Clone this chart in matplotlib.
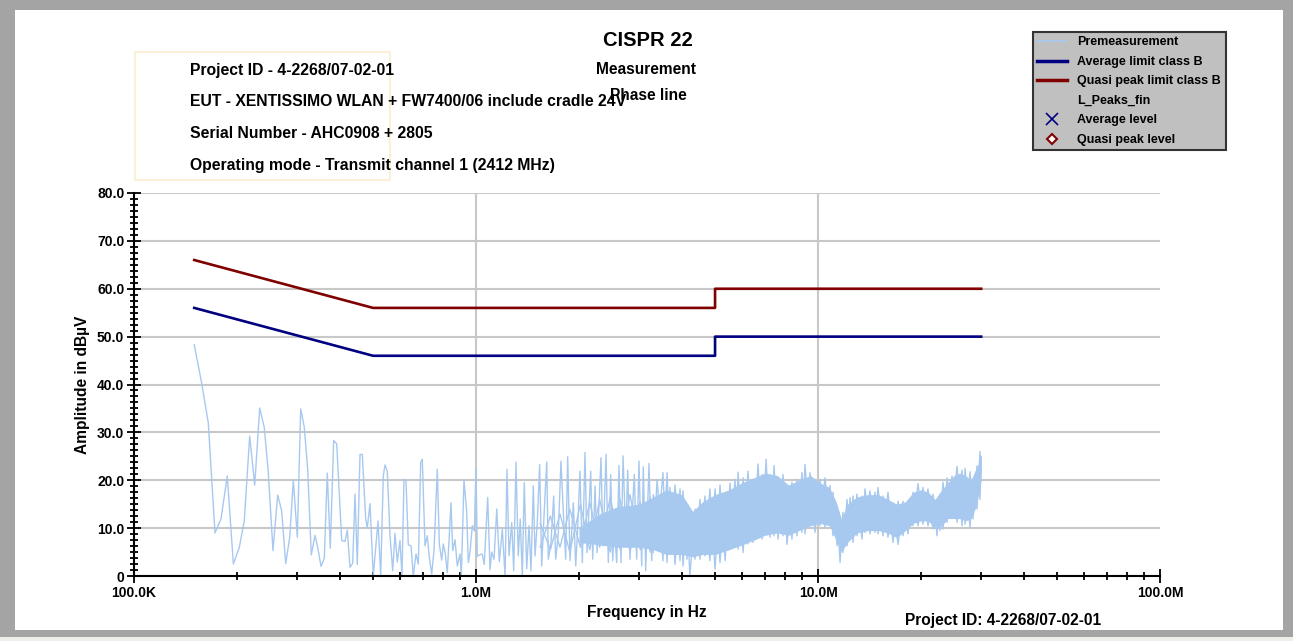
import numpy as np
import matplotlib
matplotlib.use('Agg')
import matplotlib.pyplot as plt
from matplotlib.lines import Line2D
from matplotlib.patches import Rectangle
from matplotlib.ticker import AutoMinorLocator, LogLocator, NullFormatter

# premeasurement, low frequency part (single distinct peaks), kHz / dBuV
lf_khz = [150.0, 157.7, 164.9, 172.5, 179.6, 187.4, 195.2, 203.2, 210.1, 217.9,
          225.4, 233.1, 240.4, 247.0, 254.9, 263.1, 270.3, 277.7, 285.3, 292.3,
          300.3, 307.2, 314.7, 322.0, 329.9, 338.2, 344.5, 352.2, 360.1, 367.4,
          374.9, 383.6, 391.5, 404.9, 414.0, 420.4, 428.1, 436.0, 442.8, 449.7,
          457.9, 465.1, 475.9, 481.0, 489.8, 500.8, 517.0, 526.4, 535.7, 541.9,
          550.3, 560.5, 570.7, 579.6, 588.7, 599.5, 607.6, 615.8, 624.2, 634.0,
          645.6, 655.6, 667.7, 678.1, 689.1, 696.6, 709.4, 720.4, 730.2, 742.1,
          753.7, 770.6, 781.1, 793.8, 802.4, 813.3, 824.3, 845.1, 854.8, 868.1,
          881.7, 897.9, 905.7, 922.3, 939.3, 949.4, 960.4, 975.4, 988.6, 1000.0,
          1008.8, 1022, 1043, 1057, 1082, 1099, 1111, 1129, 1150, 1170,
          1194, 1216, 1232, 1249, 1272, 1289, 1309, 1329, 1347, 1366,
          1384, 1407, 1429, 1448, 1471, 1488, 1511, 1535, 1556, 1581,
          1610, 1627, 1657, 1687, 1710, 1740, 1772, 1800, 1829, 1854,
          1883, 1926, 1957, 1983, 2014, 2046, 2083, 2112, 2165, 2194,
          2229, 2259, 2320, 2352, 2400, 2437, 2477, 2510, 2538, 2579,
          2619, 2655, 2691, 2740, 2777, 2820, 2864, 2903, 2950, 2996,
          3051, 3084, 3135, 3205, 3264, 3321]
lf_level = [48.3, 40.3, 32.0, 9.0, 11.9, 20.9, 2.5, 6.0, 11.5, 29.2,
            19.0, 35.1, 31.0, 21.6, 5.3, 16.9, 13.6, 2.6, 8.1, 20.0,
            8.1, 34.9, 31.1, 22.3, 4.4, 8.5, 6.0, 2.0, 3.7, 21.5,
            5.8, 28.3, 27.6, 7.4, 7.2, 9.6, 1.8, 2.7, 17.1, 2.4,
            25.4, 25.4, 11.9, 10.0, 15.1, 0.0, 11.5, 0.0, 20.9, 23.2,
            21.8, 8.4, 1.1, 8.9, 2.9, 7.4, 0.0, 20.2, 20.0, 6.5,
            6.3, 0.0, 4.6, 2.5, 23.7, 24.4, 6.3, 8.4, 3.9, 0.4,
            5.3, 22.3, 6.7, 3.3, 6.7, 4.6, 0.7, 15.3, 5.3, 7.6,
            2.1, 4.6, 0.0, 20.1, 13.3, 2.8, 4.9, 10.5, 9.4, 22.3,
            4.1, 4.4, 4.6, 2.4, 16.4, 1.3, 5.0, 3.5, 14.0, 3.0,
            9.8, 0.0, 22.3, 4.2, 11.2, 1.1, 23.8, 4.2, 11.9, 0.0,
            19.5, 1.5, 10.5, 1.1, 18.8, 4.2, 11.2, 23.3, 2.1, 12.6,
            23.8, 3.5, 7.0, 16.7, 3.5, 8.8, 24.0, 13.3, 3.5, 24.9,
            3.2, 15.3, 2.1, 10.1, 21.9, 2.8, 25.8, 4.9, 21.9, 3.5,
            18.8, 4.9, 24.7, 6.3, 25.4, 2.8, 21.2, 3.2, 9.8, 2.8,
            23.1, 2.8, 25.1, 8.4, 22.1, 3.5, 13.3, 21.2, 3.5, 24.0,
            2.1, 22.8, 1.1, 23.5, 3.2, 16.4]

# premeasurement, dense part: max / min of the trace per step, MHz / dBuV
band_mhz = [1.54, 1.65, 1.76, 1.88, 2.02, 2.15, 2.30, 2.47, 2.64, 2.82,
            3.02, 3.23, 3.30, 3.385, 3.52, 3.62, 3.69, 3.82, 3.95, 4.03,
            4.14, 4.22, 4.37, 4.52, 4.67, 4.83, 5.00, 5.17, 5.35, 5.53,
            5.72, 5.84, 6.04, 6.24, 6.46, 6.68, 6.86, 7.05, 7.24, 7.44,
            7.64, 7.90, 8.12, 8.39, 8.68, 8.98, 9.16, 9.48, 9.80, 10.14,
            10.48, 10.84, 11.06, 11.37, 11.60, 11.83, 12.16, 12.41, 12.66, 13.00,
            13.45, 13.72, 14.19, 14.68, 14.98, 15.49, 16.02, 16.57, 17.14, 17.72,
            18.33, 18.96, 19.61, 20.28, 20.97, 21.69, 22.28, 22.74, 23.20, 23.84,
            24.65, 25.50, 26.37, 26.91, 27.83, 28.39, 29.17, 29.76, 30.0]
band_hi = [11.0, 12.5, 13.0, 14.0, 15.0, 15.5, 16.0, 16.5, 16.0, 17.0,
           15.5, 16.5, 17.0, 20.2, 21.6, 21.6, 18.5, 19.0, 18.2, 17.8,
           14.6, 13.6, 14.0, 16.0, 16.7, 18.2, 18.2, 19.0, 17.0, 19.4,
           20.2, 21.7, 20.5, 21.9, 20.2, 23.4, 21.2, 24.4, 21.2, 23.1,
           20.5, 21.2, 18.2, 19.6, 20.2, 21.6, 23.3, 21.6, 20.2, 20.2,
           20.5, 18.9, 17.5, 14.6, 11.9, 13.3, 16.0, 16.4, 16.7, 17.1,
           16.7, 18.2, 17.8, 17.5, 18.5, 16.7, 17.5, 15.3, 15.6, 15.6,
           15.6, 17.5, 19.3, 18.5, 18.2, 17.1, 16.0, 17.1, 19.6, 20.5,
           20.9, 22.9, 22.1, 22.5, 21.8, 20.2, 23.0, 26.0, 25.0]
band_lo = [6.0, 5.5, 6.0, 5.0, 6.0, 5.5, 6.0, 5.0, 5.5, 5.0,
           5.5, 5.0, 4.9, 6.3, 3.2, 2.8, 4.9, 2.4, 3.2, 2.1,
           3.5, 0.0, 3.5, 3.5, 4.2, 3.2, 1.4, 2.8, 3.2, 5.6,
           6.3, 5.6, 4.9, 6.7, 7.0, 8.8, 7.7, 8.8, 8.1, 8.4,
           7.7, 8.4, 6.6, 7.7, 8.4, 9.1, 8.8, 10.5, 9.1, 10.5,
           10.2, 10.5, 8.4, 6.3, 2.8, 4.9, 6.3, 7.7, 7.0, 8.4,
           7.7, 9.1, 8.8, 9.1, 8.8, 8.4, 8.1, 7.0, 6.6, 8.4,
           8.8, 10.5, 10.5, 10.8, 10.5, 9.8, 8.4, 9.5, 9.8, 11.2,
           13.3, 11.2, 10.5, 10.8, 10.1, 11.9, 14.0, 16.0, 21.5]

# densely filled core of the dense part, MHz / dBuV
core_mhz = [2.0, 2.3, 2.6, 3.0, 3.3, 3.6, 4.0, 4.3, 4.6, 5.0,
            5.5, 6.0, 6.5, 7.0, 7.6, 8.2, 8.8, 9.5, 10.1, 10.8,
            11.3, 11.7, 12.2, 13.0, 14.0, 15.0, 16.0, 17.0, 18.0, 19.0,
            20.0, 21.0, 22.0, 23.0, 24.0, 25.0, 26.0, 27.0, 28.0, 29.0, 30.0]
core_lo = [7.0, 6.5, 6.0, 6.0, 5.5, 4.5, 4.5, 4.0, 4.5, 4.5,
           5.5, 6.5, 7.5, 8.5, 9.0, 8.5, 9.5, 10.5, 11.0, 10.5,
           7.5, 5.0, 7.0, 9.0, 9.5, 9.5, 9.0, 8.0, 9.5, 11.0,
           11.5, 11.5, 10.0, 10.5, 12.0, 12.0, 12.0, 11.5, 12.0, 14.5, 20.0]
core_hi = [10.0, 13.0, 14.5, 15.0, 16.5, 18.0, 17.0, 13.5, 15.5, 17.0,
           18.0, 19.5, 20.5, 21.5, 21.0, 19.0, 20.0, 21.0, 19.5, 18.5,
           15.5, 12.0, 15.0, 16.5, 17.0, 17.0, 16.0, 15.0, 15.5, 17.5,
           18.0, 17.5, 16.0, 18.0, 19.5, 21.0, 21.5, 21.0, 20.0, 22.5, 24.5]

# CISPR 22 class B limits (conducted), MHz / dBuV
limit_mhz = [0.15, 0.5, 5.0, 5.0, 30.0]
avg_limit = [56, 46, 46, 50, 50]
qp_limit = [66, 56, 56, 60, 60]

x_ticks = [1e5, 1e6, 1e7, 1e8]
x_tick_labels = ['100.0K', '1.0M', '10.0M', '100.0M']
y_ticks = [0, 10, 20, 30, 40, 50, 60, 70, 80]
y_tick_labels = ['0', '10.0', '20.0', '30.0', '40.0', '50.0', '60.0', '70.0', '80.0']

legend_labels = ['Premeasurement', 'Average limit class B', 'Quasi peak limit class B',
                 'L_Peaks_fin', 'Average level', 'Quasi peak level']

info_lines = ['Project ID - 4-2268/07-02-01',
              'EUT - XENTISSIMO WLAN + FW7400/06 include cradle 24V',
              'Serial Number - AHC0908 + 2805',
              'Operating mode - Transmit channel 1 (2412 MHz)']

trace_col = '#a8c9ef'
avg_col = '#000080'
qp_col = '#800000'

plt.rcParams['font.family'] = ['Liberation Sans', 'DejaVu Sans']

W, H = 1293, 641
fig = plt.figure(figsize=(W / 100, H / 100), dpi=100)
fig.patch.set_facecolor('#a4a4a4')

def fx(x):
    return x / W

def fy(y):
    return 1 - y / H

# white panel inside the grey frame
fig.add_artist(Rectangle((fx(15), fy(630)), fx(1283 - 15), (630 - 10) / H,
                         transform=fig.transFigure, facecolor='white',
                         edgecolor='none', zorder=-5))
fig.add_artist(Rectangle((0, 0), 1, 4 / H, transform=fig.transFigure,
                         facecolor='#efefe9', edgecolor='none', zorder=-5))
# faint box around the info text
fig.add_artist(Rectangle((fx(135), fy(180)), fx(255), 128 / H,
                         transform=fig.transFigure, facecolor='none',
                         edgecolor='#fbf1d8', lw=1.5, zorder=-4))

ax = fig.add_axes([fx(134), fy(576), fx(1160 - 134), 383 / H])
ax.set_facecolor('none')

# dense part: solid core plus max/min needles drawn as two crossing zigzags
band_f = np.array(band_mhz) * 1e6
hi = np.array(band_hi)
lo = np.array(band_lo)
even = np.arange(len(band_f)) % 2 == 0
ax.fill_between(np.array(core_mhz) * 1e6, core_lo, core_hi, color=trace_col, lw=0, zorder=2)
ax.plot(band_f, np.where(even, hi, lo), color=trace_col, lw=1.0, zorder=2)
ax.plot(band_f, np.where(even, lo, hi), color=trace_col, lw=1.0, zorder=2)
ax.plot(np.array(lf_khz) * 1e3, lf_level, color=trace_col, lw=1.0, zorder=2)

ax.plot(np.array(limit_mhz) * 1e6, avg_limit, color=avg_col, lw=1.9, zorder=3)
ax.plot(np.array(limit_mhz) * 1e6, qp_limit, color=qp_col, lw=1.9, zorder=3)

ax.set_xscale('log')
ax.set_xlim(1e5, 1e8)
ax.set_ylim(0, 80)
ax.set_xticks(x_ticks, labels=x_tick_labels)
ax.set_yticks(y_ticks, labels=y_tick_labels)
ax.xaxis.set_minor_locator(LogLocator(base=10, subs=np.arange(2, 10)))
ax.xaxis.set_minor_formatter(NullFormatter())
ax.yaxis.set_minor_locator(AutoMinorLocator(8))

ax.tick_params(axis='both', which='major', direction='inout', length=10, width=1.3,
               labelsize=10, pad=2, colors='black')
ax.tick_params(axis='both', which='minor', direction='inout', length=6, width=1.3)
for lab in ax.get_xticklabels() + ax.get_yticklabels():
    lab.set_fontweight('bold')

ax.set_axisbelow(True)
ax.yaxis.grid(True, color='#c8c8c8', lw=1.5)
for f in x_ticks[1:3]:
    ax.axvline(f, color='#c8c8c8', lw=1.5, zorder=0)

for s in ['top', 'right']:
    ax.spines[s].set_visible(False)
for s in ['left', 'bottom']:
    ax.spines[s].set_linewidth(1.5)
    ax.spines[s].set_zorder(4)

# legend
handles = [Line2D([], [], color=trace_col, lw=1.2),
           Line2D([], [], color=avg_col, lw=2.5),
           Line2D([], [], color=qp_col, lw=2.5),
           Line2D([], [], ls='none'),
           Line2D([], [], ls='none', marker='x', color=avg_col, ms=8, mew=1.2),
           Line2D([], [], ls='none', marker='D', mfc='white', mec=qp_col, ms=5, mew=1.5)]
leg = fig.legend(handles, legend_labels, loc='upper left', bbox_to_anchor=(fx(1033), fy(32)),
                 frameon=True, fancybox=False, facecolor='#c0c0c0', edgecolor='#333333',
                 framealpha=1, prop={'weight': 'bold', 'size': 9}, handlelength=2.4,
                 labelspacing=0.6, borderpad=0.35, handletextpad=0.8, borderaxespad=0)
leg.get_frame().set_linewidth(1.5)

# header texts
fig.text(fx(648), fy(41), 'CISPR 22', ha='center', va='center', fontsize=14.5, fontweight='bold')
fig.text(fx(646), fy(70), 'Measurement', ha='center', va='center', fontsize=11.2, fontweight='bold')
fig.text(fx(648), fy(95), 'Phase line', ha='center', va='center', fontsize=11.2, fontweight='bold')
for i, line in enumerate(info_lines):
    fig.text(fx(190), fy(70 + i * 31.7), line, ha='left', va='center', fontsize=11.3,
             fontweight='bold')

fig.text(fx(647), fy(613), 'Frequency in Hz', ha='center', va='center', fontsize=11.2,
         fontweight='bold')
fig.text(fx(905), fy(620), 'Project ID: 4-2268/07-02-01', ha='left', va='center',
         fontsize=11.2, fontweight='bold')
fig.text(fx(82), fy(385), 'Amplitude in dBµV', ha='center', va='center', rotation=90,
         fontsize=11.2, fontweight='bold')

fig.savefig('out.png', dpi=100, facecolor=fig.get_facecolor())
